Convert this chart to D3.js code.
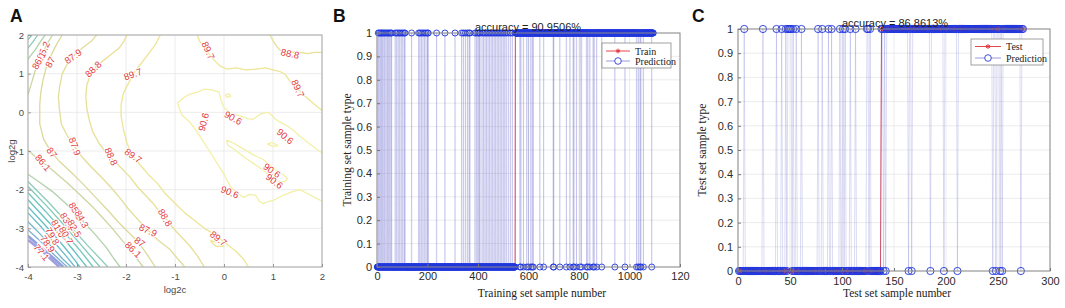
<!DOCTYPE html>
<html>
<head>
<meta charset="utf-8">
<script src="https://cdn.jsdelivr.net/npm/d3@7"></script>
<style>
    body { margin: 0; background: #fff; }
    svg { display: block; font-family: "Liberation Sans", Arial, sans-serif; }
</style>
</head>
<body>
<svg id="chart" width="1065" height="308"></svg>
<script>

// ---------------- data: panel A (grid search contour, log2c / log2g) ----------------
const log2cTicks = [-4, -3, -2, -1, 0, 1, 2];
const log2gTicks = [-4, -3, -2, -1, 0, 1, 2];

// contour lines, one array per level, points as [log2c, log2g]
const c906 = [
    [[-0.95, 0.25], [-0.82, 0.38], [-0.7, 0.47], [-0.55, 0.52], [-0.4, 0.6], [-0.25, 0.58], [-0.1, 0.52], [-0.06, 0.3], [0.0, 0.12], [0.1, 0.02], [0.22, -0.06], [0.35, -0.1], [0.48, -0.16], [0.6, -0.18], [0.68, -0.1], [0.75, -0.04], [0.9, 0.0], [0.98, -0.08], [1.05, -0.18], [1.18, -0.28], [1.3, -0.36], [1.42, -0.47], [1.55, -0.62], [1.75, -0.82], [2.0, -1.05]],
    [[-0.95, 0.25], [-0.9, 0.05], [-0.85, -0.08], [-0.7, -0.25], [-0.6, -0.42], [-0.5, -0.6], [-0.4, -0.8], [-0.3, -1.0], [-0.2, -1.2], [-0.1, -1.4], [0.0, -1.6], [0.08, -1.8], [0.15, -1.95], [0.28, -2.1], [0.4, -2.2], [0.52, -2.12], [0.65, -2.15], [0.72, -2.3], [0.8, -2.36], [0.92, -2.3], [1.0, -2.28], [1.2, -2.15], [1.4, -2.05], [1.55, -2.0], [1.7, -2.1], [1.85, -2.2], [2.0, -2.3]],
    [[0.05, -0.72], [0.2, -0.8], [0.4, -0.95], [0.6, -1.1], [0.8, -1.22], [0.95, -1.38], [1.05, -1.48], [1.2, -1.6], [1.3, -1.72], [1.22, -1.8], [1.1, -1.78], [0.95, -1.65], [0.8, -1.5], [0.6, -1.32], [0.4, -1.15], [0.2, -0.95], [0.08, -0.85], [0.05, -0.72]],
    [[0.02, 0.45], [0.1, 0.48], [0.14, 0.42], [0.06, 0.39], [0.02, 0.45]],
    [[0.88, -0.82], [0.98, -0.78], [1.1, -0.86], [1.0, -0.88], [0.88, -0.82]]
];
const c897 = [
    [[-0.55, 2.0], [-0.5, 1.85], [-0.42, 1.7], [-0.3, 1.5], [-0.2, 1.35], [-0.08, 1.2], [0.05, 1.12], [0.25, 1.15], [0.45, 1.1], [0.65, 1.12], [0.85, 1.15], [1.0, 1.1], [1.15, 1.05], [1.25, 0.98], [1.35, 0.8], [1.45, 0.65], [1.55, 0.55], [1.65, 0.42], [1.78, 0.28], [1.9, 0.15], [2.0, 0.05]],
    [[-1.3, 2.0], [-1.4, 1.75], [-1.55, 1.5], [-1.7, 1.25], [-1.85, 1.0], [-1.95, 0.75], [-2.05, 0.5], [-2.1, 0.2], [-2.1, -0.1], [-2.05, -0.45], [-1.98, -0.8], [-1.88, -1.1], [-1.72, -1.35], [-1.55, -1.6], [-1.35, -1.85], [-1.2, -2.1], [-1.0, -2.35], [-0.8, -2.6], [-0.6, -2.8], [-0.4, -3.0], [-0.2, -3.15], [-0.05, -3.3], [0.1, -3.45], [0.25, -3.6], [0.4, -3.8], [0.5, -4.0]],
    [[-0.28, -3.32], [-0.12, -3.36], [0.0, -3.46], [-0.16, -3.47], [-0.28, -3.32]]
];
const c888 = [
    [[0.94, 2.0], [1.0, 1.85], [1.08, 1.7], [1.15, 1.6], [1.3, 1.55], [1.5, 1.56], [1.7, 1.52], [1.85, 1.55], [2.0, 1.55]],
    [[-1.98, 2.0], [-2.05, 1.82], [-2.15, 1.65], [-2.3, 1.5], [-2.45, 1.35], [-2.6, 1.2], [-2.72, 1.0], [-2.8, 0.7], [-2.82, 0.4], [-2.8, 0.1], [-2.75, -0.2], [-2.68, -0.5], [-2.55, -0.8], [-2.4, -1.05], [-2.25, -1.25], [-2.05, -1.5], [-1.9, -1.7], [-1.75, -1.95], [-1.6, -2.15], [-1.45, -2.35], [-1.3, -2.6], [-1.15, -2.8], [-1.0, -3.05], [-0.85, -3.25], [-0.7, -3.45], [-0.55, -3.7], [-0.4, -4.0]]
];
const c879 = [
    [[-2.6, 2.0], [-2.7, 1.85], [-2.85, 1.7], [-3.0, 1.55], [-3.12, 1.4], [-3.22, 1.2], [-3.3, 1.0], [-3.35, 0.7], [-3.38, 0.4], [-3.36, 0.1], [-3.32, -0.3], [-3.2, -0.6], [-3.05, -0.88], [-2.9, -1.15], [-2.72, -1.4], [-2.5, -1.68], [-2.3, -1.95], [-2.1, -2.25], [-1.95, -2.5], [-1.75, -2.78], [-1.55, -3.05], [-1.35, -3.3], [-1.1, -3.55], [-0.95, -3.78], [-0.8, -4.0]]
];
const c870 = [
    [[-3.3, 2.0], [-3.42, 1.75], [-3.52, 1.5], [-3.58, 1.3], [-3.64, 1.1], [-3.7, 0.8], [-3.74, 0.5], [-3.76, 0.2], [-3.76, -0.3], [-3.68, -0.7], [-3.52, -1.04], [-3.35, -1.28], [-3.12, -1.55], [-2.88, -1.85], [-2.62, -2.2], [-2.38, -2.52], [-2.15, -2.85], [-1.95, -3.1], [-1.75, -3.35], [-1.6, -3.62], [-1.4, -4.0]]
];
const c861 = [
    [[-3.5, 2.0], [-3.62, 1.75], [-3.7, 1.5], [-3.78, 1.3], [-3.86, 1.05], [-3.93, 0.75], [-4.0, 0.45]],
    [[-4.0, -0.98], [-3.85, -1.15], [-3.69, -1.3], [-3.45, -1.55], [-3.2, -1.82], [-2.95, -2.12], [-2.7, -2.42], [-2.48, -2.72], [-2.28, -3.0], [-2.1, -3.28], [-1.92, -3.55], [-1.78, -3.78], [-1.65, -4.0]]
];
const c852 = [
    [[-3.65, 2.0], [-3.75, 1.82], [-3.85, 1.62], [-4.0, 1.38]],
    [[-4.0, -1.6], [-3.75, -1.82], [-3.5, -2.05], [-3.28, -2.3], [-3.05, -2.57], [-2.85, -2.85], [-2.6, -3.2], [-2.4, -3.5], [-2.25, -3.78], [-2.12, -4.0]]
];
const c843 = [
    [[-3.8, 2.0], [-3.9, 1.82], [-4.0, 1.66]],
    [[-4.0, -1.79], [-3.6, -2.3], [-3.2, -2.85], [-2.8, -3.42], [-2.37, -4.0]]
];
const c834 = [
    [[-3.92, 2.0], [-4.0, 1.88]],
    [[-4.0, -1.92], [-3.62, -2.42], [-3.22, -2.98], [-2.87, -3.5], [-2.53, -4.0]]
];
const c825 = [[[-4.0, -2.08], [-3.65, -2.55], [-3.3, -3.05], [-2.95, -3.55], [-2.67, -4.0]]];
const c816 = [[[-4.0, -2.26], [-3.68, -2.7], [-3.35, -3.15], [-3.05, -3.6], [-2.8, -4.0]]];
const c807 = [[[-4.0, -2.44], [-3.7, -2.85], [-3.4, -3.27], [-3.15, -3.65], [-2.94, -4.0]]];
const c798 = [[[-4.0, -2.6], [-3.72, -2.98], [-3.45, -3.38], [-3.22, -3.72], [-3.04, -4.0]]];
const c789 = [[[-4.0, -2.83], [-3.75, -3.15], [-3.5, -3.5], [-3.3, -3.78], [-3.12, -4.0]]];
const c780 = [[[-4.0, -3.04], [-3.75, -3.33], [-3.52, -3.62], [-3.2, -4.0]]];
const c771 = [[[-4.0, -3.2], [-3.72, -3.5], [-3.5, -3.75], [-3.28, -4.0]]];
const c762 = [[[-4.0, -3.3], [-3.7, -3.6], [-3.36, -4.0]]];

const contourLevels = [90.6, 89.7, 88.8, 87.9, 87, 86.1, 85.2, 84.3, 83.4, 82.5, 81.6, 80.7, 79.8, 78.9, 78, 77.1, 76.2];
const contourSets = [c906, c897, c888, c879, c870, c861, c852, c843, c834, c825, c816, c807, c798, c789, c780, c771, c762];

// contour labels [log2c, log2g, text]
const contourLabels = [
    [-3.69, 1.6, "85.2"], [-3.78, 1.34, "86.1"], [-3.55, 1.3, "87"], [-3.08, 1.45, "87.9"],
    [-2.67, 1.12, "88.8"], [-1.86, 0.99, "89.7"], [-0.32, 1.6, "89.7"], [1.35, 1.52, "88.8"],
    [1.51, 0.62, "89.7"], [-0.42, -0.25, "90.6"], [0.19, -0.14, "90.6"], [1.25, -0.62, "90.6"],
    [0.98, -1.5, "90.6"], [1.03, -1.78, "90.6"], [0.12, -2.06, "90.6"], [-3.04, -0.88, "87.9"],
    [-3.51, -1.04, "87"], [-3.69, -1.3, "86.1"], [-2.3, -1.14, "88.8"], [-1.85, -1.12, "89.7"],
    [-1.2, -2.72, "88.8"], [-1.55, -3.05, "87.9"], [-1.72, -3.35, "87"], [-1.85, -3.55, "86.1"],
    [-0.11, -3.26, "89.7"], [-3.02, -2.55, "85.2"], [-2.9, -2.76, "84.3"], [-3.2, -2.82, "83.4"],
    [-3.05, -3.0, "82.5"], [-3.38, -3.0, "81.6"], [-3.22, -3.18, "80.7"], [-3.5, -3.2, "79.8"],
    [-3.6, -3.4, "78.9"], [-3.72, -3.62, "77.1"]
];
const labelAngles = [-65, -60, -60, -35, -45, -20, 65, 12, 65, -75, 30, 40, 35, 38, 22, 70,
    55, 50, 65, 35, 60, 25, 35, 45, 38, 60, 60, 60, 60, 60, 60, 60, 55, 50];

// ---------------- data: panels B and C (class labels and misclassified samples) ----------------
const trainClassSizes = [547, 547];
// class-0 training samples predicted as 1
const trainWrongAs1 = [5, 9, 14, 18, 22, 27, 31, 36, 41, 45, 50, 55, 58, 72, 78, 84, 90, 96, 102, 108, 111,
    137, 165, 170, 176, 182, 188, 194, 200, 203, 236, 269, 309, 335, 342, 350, 358, 365, 368,
    388, 394, 400, 405, 408, 416, 422, 428, 434, 440, 446, 452, 458, 464, 470, 476, 482, 488,
    494, 500, 506, 512, 520, 528, 536];
// class-1 training samples predicted as 0
const trainWrongAs0 = [566, 570, 580, 593, 600, 609, 615, 619, 645, 660, 698, 700, 724, 750, 764, 777,
    780, 790, 804, 810, 830, 835, 843, 856, 860, 870, 890, 942, 982, 1028, 1035, 1042, 1045, 1055, 1088];
const trainXTicks = [0, 200, 400, 600, 800, 1000, 1200];
const trainXTickLabels = ["0", "200", "400", "600", "800", "1000", "120"];

const testClassSizes = [137, 137];
const testWrongAs1 = [6, 24, 37, 42, 46, 48, 49, 50, 51, 53, 56, 61, 77, 81, 87, 90, 98, 101, 103,
    108, 113, 124, 125, 127];
const testWrongAs0 = [140, 142, 164, 167, 185, 198, 211, 245, 248, 252, 254, 272];
const testXTicks = [0, 50, 100, 150, 200, 250, 300];
const testXTickLabels = ["0", "50", "100", "150", "200", "250", "300"];

const typeTicks = [0, 0.1, 0.2, 0.3, 0.4, 0.5, 0.6, 0.7, 0.8, 0.9, 1];


// ---------------- drawing ----------------
const svg = d3.select("#chart");
svg.append("rect").attr("width", 1065).attr("height", 308).attr("fill", "#fff");

// panel letters
[["A", 10], ["B", 333], ["C", 692]].forEach(p => {
    svg.append("text").attr("x", p[1]).attr("y", 22)
        .attr("font-size", 17.5).attr("font-weight", "bold").attr("fill", "#111")
        .text(p[0]);
});


class ContourChart {

    constructor(_svg, _config) {
        this.svg = _svg;
        this.config = _config;
        this.initVis();
    }

    initVis() {
        let vis = this;
        let c = vis.config;

        vis.x = d3.scaleLinear().domain([-4, 2]).range([c.left, c.right]);
        vis.y = d3.scaleLinear().domain([-4, 2]).range([c.bottom, c.top]);

        vis.g = vis.svg.append("g");

        vis.g.append("clipPath").attr("id", "clipA")
            .append("rect")
            .attr("x", c.left).attr("y", c.top)
            .attr("width", c.right - c.left).attr("height", c.bottom - c.top);

        // Grid
        vis.g.append("g").selectAll("line").data(log2cTicks).join("line")
            .attr("x1", d => vis.x(d)).attr("x2", d => vis.x(d))
            .attr("y1", c.top).attr("y2", c.bottom)
            .attr("stroke", "#e6e6e6").attr("stroke-width", 0.8);
        vis.g.append("g").selectAll("line").data(log2gTicks).join("line")
            .attr("y1", d => vis.y(d)).attr("y2", d => vis.y(d))
            .attr("x1", c.left).attr("x2", c.right)
            .attr("stroke", "#e6e6e6").attr("stroke-width", 0.8);

        // pale parula-like colours
        vis.color = d3.scaleLinear()
            .domain([76.2, 77.1, 78.9, 81.6, 84.3, 85.2, 86.1, 87, 88.8, 89.7, 90.6])
            .range(["#a09ce2", "#8fa2dc", "#6fb6d0", "#62c2c0", "#8ccdb6", "#b2d2aa", "#ccd6a0", "#dcd99c", "#e8e096", "#ede696", "#f3f0a6"]);

        vis.wrangleData();
    }

    wrangleData() {
        let vis = this;
        vis.displayData = [];
        contourSets.forEach((set, i) => {
            set.forEach(pts => vis.displayData.push({ level: contourLevels[i], pts: pts }));
        });
        vis.updateVis();
    }

    updateVis() {
        let vis = this;
        let c = vis.config;

        let line = d3.line().x(d => vis.x(d[0])).y(d => vis.y(d[1]));

        vis.g.append("g").attr("clip-path", "url(#clipA)")
            .selectAll("path").data(vis.displayData).join("path")
            .attr("d", d => line(d.pts))
            .attr("fill", "none")
            .attr("stroke", d => vis.color(d.level))
            .attr("stroke-width", d => d.level < 77.5 ? 2.6 : 1.3)
            .attr("stroke-linejoin", "round");

        // Labels
        vis.g.append("g").selectAll("text").data(contourLabels).join("text")
            .attr("transform", (d, i) => "translate(" + vis.x(d[0]) + "," + vis.y(d[1]) + ") rotate(" + labelAngles[i] + ")")
            .attr("text-anchor", "middle")
            .attr("dominant-baseline", "central")
            .attr("font-size", 9.5)
            .attr("fill", "#e23a3c")
            .attr("stroke", "#fff").attr("stroke-width", 2)
            .attr("paint-order", "stroke")
            .text(d => d[2]);

        // Box
        vis.g.append("rect")
            .attr("x", c.left).attr("y", c.top)
            .attr("width", c.right - c.left).attr("height", c.bottom - c.top)
            .attr("fill", "none").attr("stroke", "#a8a8a8").attr("stroke-width", 1);

        // Axes
        let xAxis = d3.axisBottom(vis.x).tickValues(log2cTicks).tickFormat(d => String(d))
            .tickSizeInner(-3).tickSizeOuter(0).tickPadding(6);
        let yAxis = d3.axisLeft(vis.y).tickValues(log2gTicks).tickFormat(d => String(d))
            .tickSizeInner(-3).tickSizeOuter(0).tickPadding(4);

        let gx = vis.g.append("g").attr("transform", "translate(0," + c.bottom + ")").call(xAxis);
        let gy = vis.g.append("g").attr("transform", "translate(" + c.left + ",0)").call(yAxis);
        [gx, gy].forEach(ax => {
            ax.select(".domain").remove();
            ax.selectAll("line").attr("stroke", "#999");
            ax.selectAll("text").attr("font-size", 9.5).attr("fill", "#4a4a4a")
                .attr("font-family", "Liberation Sans, Arial, sans-serif");
        });

        vis.g.append("text").attr("x", (c.left + c.right) / 2).attr("y", 293)
            .attr("text-anchor", "middle").attr("font-size", 9.5).attr("fill", "#4a4a4a")
            .text("log2c");
        vis.g.append("text").attr("transform", "translate(11," + (c.top + c.bottom) / 2 + ") rotate(-90)")
            .attr("text-anchor", "middle").attr("dominant-baseline", "central")
            .attr("font-size", 9.5).attr("fill", "#4a4a4a")
            .text("log2g");
    }
}


class PredictionChart {

    constructor(_svg, _sizes, _wrongAs1, _wrongAs0, _config) {
        this.svg = _svg;
        this.sizes = _sizes;
        this.wrongAs1 = _wrongAs1;
        this.wrongAs0 = _wrongAs0;
        this.config = _config;
        this.initVis();
    }

    initVis() {
        let vis = this;
        let c = vis.config;

        vis.x = d3.scaleLinear().domain(c.xDomain).range([c.left, c.right]);
        vis.y = d3.scaleLinear().domain([0, 1]).range([c.bottom, c.top]);

        vis.g = vis.svg.append("g");

        // Grid
        vis.g.append("g").selectAll("line").data(c.xTicks).join("line")
            .attr("x1", d => vis.x(d)).attr("x2", d => vis.x(d))
            .attr("y1", c.top).attr("y2", c.bottom)
            .attr("stroke", "#e4e4e4").attr("stroke-width", 0.7);
        vis.g.append("g").selectAll("line").data(typeTicks).join("line")
            .attr("y1", d => vis.y(d)).attr("y2", d => vis.y(d))
            .attr("x1", c.left).attr("x2", c.right)
            .attr("stroke", "#e4e4e4").attr("stroke-width", 0.7);

        vis.wrangleData();
    }

    wrangleData() {
        let vis = this;

        // true labels: class 0 block then class 1 block
        vis.actual = d3.range(vis.sizes[0] + vis.sizes[1]).map(i => (i < vis.sizes[0] ? 0 : 1));

        // predicted labels: flip the misclassified samples (1-based sample numbers)
        vis.predicted = vis.actual.slice();
        vis.wrongAs1.forEach(s => { vis.predicted[s - 1] = 1; });
        vis.wrongAs0.forEach(s => { vis.predicted[s - 1] = 0; });

        let correct = vis.actual.filter((d, i) => d === vis.predicted[i]).length;
        vis.accuracy = (100 * correct / vis.actual.length).toFixed(4);

        vis.updateVis();
    }

    updateVis() {
        let vis = this;
        let c = vis.config;

        let line = d3.line().x((d, i) => vis.x(i + 1)).y(d => vis.y(d));
        let star = d3.symbol(d3.symbolAsterisk || d3.symbolCross, 16)();

        // Actual labels (red line with stars)
        vis.g.append("path").datum(vis.actual)
            .attr("d", line)
            .attr("fill", "none").attr("stroke", "#e8454c").attr("stroke-width", 1);
        vis.g.append("g").selectAll("path").data(vis.actual).join("path")
            .attr("transform", (d, i) => "translate(" + vis.x(i + 1) + "," + vis.y(d) + ")")
            .attr("d", star)
            .attr("fill", "none").attr("stroke", "#e0303a").attr("stroke-width", 0.9);

        // Predictions (thin line with circles)
        vis.g.append("path").datum(vis.predicted)
            .attr("d", line)
            .attr("fill", "none").attr("stroke", "#7272d4")
            .attr("stroke-opacity", 0.42).attr("stroke-width", 0.6);
        vis.g.append("g").selectAll("circle").data(vis.predicted).join("circle")
            .attr("cx", (d, i) => vis.x(i + 1))
            .attr("cy", d => vis.y(d))
            .attr("r", c.radius)
            .attr("fill", "none").attr("stroke", "#2036dc").attr("stroke-width", 0.9);

        // Box
        vis.g.append("rect")
            .attr("x", c.left).attr("y", c.top)
            .attr("width", c.right - c.left).attr("height", c.bottom - c.top)
            .attr("fill", "none").attr("stroke", "#8a8a8a").attr("stroke-width", 1);

        // Axes
        let xAxis = d3.axisBottom(vis.x).tickValues(c.xTicks)
            .tickFormat((d, i) => c.xTickLabels[i])
            .tickSizeInner(-3).tickSizeOuter(0).tickPadding(c.xPad);
        let yAxis = d3.axisLeft(vis.y).tickValues(typeTicks)
            .tickFormat(d => String(d))
            .tickSizeInner(-3).tickSizeOuter(0).tickPadding(5);

        let gx = vis.g.append("g").attr("transform", "translate(0," + c.bottom + ")").call(xAxis);
        let gy = vis.g.append("g").attr("transform", "translate(" + c.left + ",0)").call(yAxis);
        [gx, gy].forEach(ax => {
            ax.select(".domain").remove();
            ax.selectAll("line").attr("stroke", "#777");
            ax.selectAll("text").attr("font-size", 11).attr("fill", "#2a2a2a")
                .attr("font-family", "Liberation Sans, Arial, sans-serif");
        });

        // Title
        vis.g.append("text").attr("x", c.titleX).attr("y", c.titleY)
            .attr("text-anchor", "middle").attr("font-size", 11).attr("fill", "#222")
            .text("accuracy = " + vis.accuracy + "%");

        // Axis titles
        vis.g.append("text").attr("x", c.xLabelX).attr("y", 297)
            .attr("text-anchor", "middle").attr("font-size", 11.5)
            .attr("font-family", "Liberation Serif, Times New Roman, serif").attr("fill", "#222")
            .text(c.xLabel);
        vis.g.append("text").attr("transform", "translate(" + c.yLabelX + "," + (c.top + c.bottom) / 2 + ") rotate(-90)")
            .attr("text-anchor", "middle").attr("dominant-baseline", "central")
            .attr("font-size", 11.5)
            .attr("font-family", "Liberation Serif, Times New Roman, serif").attr("fill", "#222")
            .text(c.yLabel);

        // Legend
        let lg = c.legend;
        let leg = vis.g.append("g");
        leg.append("rect").attr("x", lg.x).attr("y", lg.y).attr("width", lg.w).attr("height", lg.h)
            .attr("fill", "#fff").attr("stroke", "#8a8a8a").attr("stroke-width", 0.8);
        let rows = [
            { name: c.seriesNames[0], color: "#e8454c", mark: "star" },
            { name: c.seriesNames[1], color: "#9a9ae0", mark: "circle" }
        ];
        rows.forEach((r, i) => {
            let ry = lg.y + lg.rowY[i];
            leg.append("line").attr("x1", lg.x + 4).attr("x2", lg.x + lg.lineW)
                .attr("y1", ry).attr("y2", ry)
                .attr("stroke", r.color).attr("stroke-width", 1);
            let mx = lg.x + 4 + (lg.lineW - 4) / 2;
            if (r.mark === "star") {
                leg.append("path").attr("transform", "translate(" + mx + "," + ry + ")")
                    .attr("d", star).attr("fill", "none").attr("stroke", "#e0303a");
            } else {
                leg.append("circle").attr("cx", mx).attr("cy", ry).attr("r", 3.3)
                    .attr("fill", "#fff").attr("stroke", "#2a3ad8").attr("stroke-width", 0.9);
            }
            leg.append("text").attr("x", lg.x + lg.lineW + 5).attr("y", ry)
                .attr("dominant-baseline", "central")
                .attr("font-size", 10).attr("font-family", "Liberation Serif, Times New Roman, serif")
                .attr("fill", "#222")
                .text(r.name);
        });
    }
}


new ContourChart(svg, { left: 28, right: 322, top: 35, bottom: 267 });

new PredictionChart(svg, trainClassSizes, trainWrongAs1, trainWrongAs0, {
    left: 377, right: 680, top: 33, bottom: 267,
    xDomain: [0, 1200], xTicks: trainXTicks, xTickLabels: trainXTickLabels, xPad: 5,
    radius: 3,
    titleX: 528, titleY: 31,
    xLabel: "Training set sample number", xLabelX: 542,
    yLabel: "Training set sample type", yLabelX: 347,
    seriesNames: ["Train", "Prediction"],
    legend: { x: 602, y: 43, w: 69, h: 25, rowY: [8, 18], lineW: 28 }
});

new PredictionChart(svg, testClassSizes, testWrongAs1, testWrongAs0, {
    left: 738, right: 1050, top: 29, bottom: 271,
    xDomain: [0, 300], xTicks: testXTicks, xTickLabels: testXTickLabels, xPad: 6,
    radius: 3.6,
    titleX: 895, titleY: 26.5,
    xLabel: "Test set sample number", xLabelX: 897,
    yLabel: "Test set sample type", yLabelX: 702,
    seriesNames: ["Test", "Prediction"],
    legend: { x: 971, y: 39, w: 72, h: 26, rowY: [7.5, 19], lineW: 30 }
});

</script>
</body>
</html>
